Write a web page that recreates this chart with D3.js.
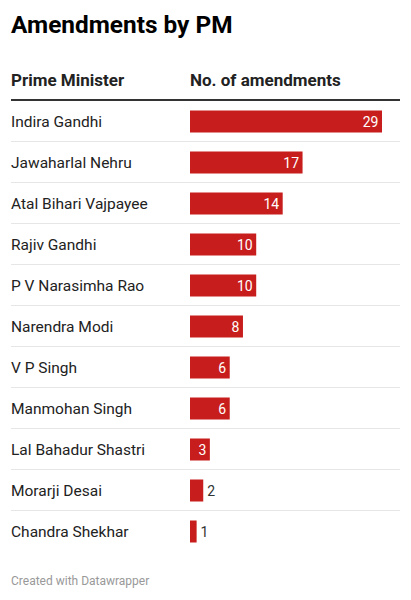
<!DOCTYPE html>
<html>
<head>
<meta charset="utf-8">
<script src="https://cdn.jsdelivr.net/npm/d3@7"></script>
<style>
  html, body { margin: 0; padding: 0; background: #fff; }
  svg { display: block; font-family: Roboto, sans-serif; }
</style>
</head>
<body>
<svg id="chart"></svg>
<script>
// Data
const ministers = ["Indira Gandhi", "Jawaharlal Nehru", "Atal Bihari Vajpayee", "Rajiv Gandhi",
  "P V Narasimha Rao", "Narendra Modi", "V P Singh", "Manmohan Singh",
  "Lal Bahadur Shastri", "Morarji Desai", "Chandra Shekhar"];
const amendments = [29, 17, 14, 10, 10, 8, 6, 6, 3, 2, 1];
const columnHeaders = ["Prime Minister", "No. of amendments"];

const data = ministers.map((name, i) => ({ name, value: amendments[i] }));

// Dimensions
const width = 411;
const height = 600;
const marginLeft = 11;
const marginRight = 11;
const barLeft = 190;
const barRight = 382;
const rowsTop = 101;
const rowH = 41;

const svg = d3.select("#chart")
  .attr("width", width)
  .attr("height", height)
  .attr("viewBox", [0, 0, width, height]);

// Scales
const x = d3.scaleLinear([0, d3.max(amendments)], [barLeft, barRight]);
const y = d3.scaleBand(ministers, [rowsTop, rowsTop + rowH * ministers.length]).paddingInner(0);

// Title
svg.append("text")
  .attr("x", marginLeft)
  .attr("y", 33)
  .attr("font-size", 24.4)
  .attr("font-weight", 700)
  .attr("fill", "#000")
  .text("Amendments by PM");

// Column headers
svg.selectAll(".header")
  .data(columnHeaders)
  .join("text")
  .attr("class", "header")
  .attr("x", (d, i) => i ? barLeft : marginLeft)
  .attr("y", 86)
  .attr("font-size", 17)
  .attr("font-weight", 700)
  .attr("fill", "#222")
  .text(d => d);

// Header rule
svg.append("line")
  .attr("x1", marginLeft)
  .attr("x2", width - marginRight)
  .attr("y1", 100)
  .attr("y2", 100)
  .attr("stroke", "#333")
  .attr("stroke-width", 2);

const rows = svg.selectAll(".row")
  .data(data)
  .join("g")
  .attr("class", "row")
  .attr("transform", d => `translate(0,${y(d.name)})`);

// Row separators (not after last)
rows.filter((d, i) => i < data.length - 1)
  .append("line")
  .attr("x1", marginLeft)
  .attr("x2", width - marginRight)
  .attr("y1", rowH - 0.5)
  .attr("y2", rowH - 0.5)
  .attr("stroke", "#e6e6e6")
  .attr("stroke-width", 1);

// Names
rows.append("text")
  .attr("x", marginLeft)
  .attr("y", rowH / 2 + 5.5)
  .attr("font-size", 15.5)
  .attr("fill", "#222")
  .text(d => d.name);

// Bars
const barH = 22;
rows.append("rect")
  .attr("x", x(0))
  .attr("y", (rowH - barH) / 2)
  .attr("width", d => x(d.value) - x(0))
  .attr("height", barH)
  .attr("fill", "#c71e1d");

// Value labels: inside the bar when it fits, otherwise after it
const inside = d => d.value >= 3;
rows.append("text")
  .attr("x", d => inside(d) ? x(d.value) - 3.5 : x(d.value) + 4)
  .attr("y", rowH / 2 + 5)
  .attr("text-anchor", d => inside(d) ? "end" : "start")
  .attr("font-size", 14)
  .attr("fill", d => inside(d) ? "#fff" : "#333")
  .text(d => d.value);

// Footer
svg.append("text")
  .attr("x", marginLeft)
  .attr("y", 585)
  .attr("font-size", 12)
  .attr("fill", "#999")
  .text("Created with Datawrapper");
</script>
</body>
</html>
